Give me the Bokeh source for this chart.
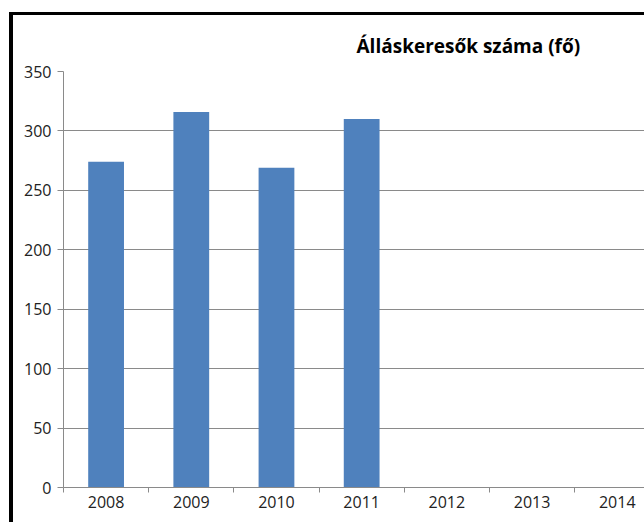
from bokeh.plotting import figure
from bokeh.models import Range1d, FixedTicker, ColumnDataSource
from bokeh.layouts import column
from bokeh.embed import file_html
from bokeh.resources import INLINE

years = ["2008", "2009", "2010", "2011", "2012", "2013", "2014"]
values = [274, 316, 269, 310, None, None, None]
y_ticks = [0, 50, 100, 150, 200, 250, 300, 350]
title_text = "Álláskeresők száma (fő)"

centers = [i + 0.5 for i in range(len(years))]
bounds = [float(i) for i in range(len(years) + 1)]
bx = [c for c, v in zip(centers, values) if v is not None]
by = [v for v in values if v is not None]
src = ColumnDataSource(data=dict(x=bx, top=by))

p = figure(width=631, height=507, output_backend="svg", toolbar_location=None,
           x_range=Range1d(0, 6.82), y_range=Range1d(0, 350),
           min_border_left=50, min_border_top=56, min_border_bottom=35,
           min_border_right=0)

p.vbar(x="x", top="top", width=0.42, bottom=0, source=src,
       fill_color="#4F81BD", line_color=None)

p.title.text = title_text
p.title.text_font = "Open Sans"
p.title.text_font_size = "19px"
p.title.text_font_style = "bold"
p.title.text_color = "#000000"
p.title.align = "left"
p.title.offset = 293
p.title.standoff = 25

p.outline_line_color = None
p.xgrid.grid_line_color = None
p.ygrid.grid_line_color = "#8a8a8a"
p.ygrid.ticker = FixedTicker(ticks=y_ticks)

p.yaxis.ticker = FixedTicker(ticks=y_ticks)
p.yaxis.axis_line_color = "#8a8a8a"
p.yaxis.major_tick_line_color = "#8a8a8a"
p.yaxis.major_tick_out = 6
p.yaxis.major_tick_in = 0
p.yaxis.minor_tick_line_color = None
p.yaxis.major_label_text_font = "Open Sans"
p.yaxis.major_label_text_font_size = "16px"
p.yaxis.major_label_text_color = "#222222"
p.yaxis.major_label_standoff = 6

p.xaxis.ticker = FixedTicker(ticks=centers, minor_ticks=bounds)
p.xaxis.major_label_overrides = {c: y for c, y in zip(centers, years)}
p.xaxis.axis_line_color = "#8a8a8a"
p.xaxis.major_tick_line_color = None
p.xaxis.major_tick_out = 5
p.xaxis.major_tick_in = 0
p.xaxis.minor_tick_line_color = "#8a8a8a"
p.xaxis.minor_tick_out = 5
p.xaxis.minor_tick_in = 0
p.xaxis.major_label_text_font = "Open Sans"
p.xaxis.major_label_text_font_size = "16px"
p.xaxis.major_label_text_color = "#222222"
p.xaxis.major_label_standoff = 3

layout = column(p, styles={"border-top": "3px solid black",
                           "border-left": "4px solid black",
                           "margin-top": "12px", "margin-left": "9px"})

open("out.html", "w").write(file_html(layout, INLINE))
